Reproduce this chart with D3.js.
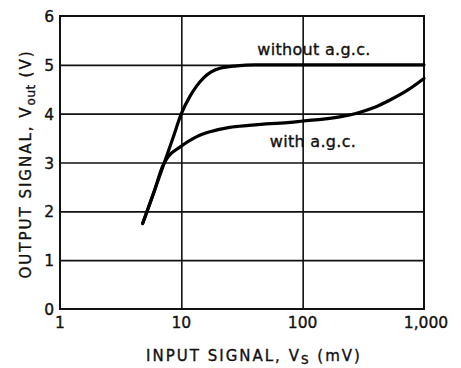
<!DOCTYPE html>
<html>
<head>
<meta charset="utf-8">
<script src="https://cdn.jsdelivr.net/npm/d3@7"></script>
<style>
  body { margin:0; background:#fff; }
  svg text { font-family:"DejaVu Sans", sans-serif; fill:#111; stroke:#111; stroke-width:0.35; }
  .grid line { stroke:#111; stroke-width:1.6; }
  .grid path { display:none; }
  .tick__text { font-size:15.5px; }
  .title { font-size:15px; letter-spacing:2px; }
  .curve { fill:none; stroke:#000; stroke-width:3.2; stroke-linecap:round; }
  .note { font-size:16px; letter-spacing:0.3px; }
</style>
</head>
<body>
<script>
// input signal (mV) -> output signal (V)
const withoutAgc=[
    [4.8,1.75],[6.0,2.42],[7.2,2.98],[8.5,3.49],[10,4.0],[11.8,4.36],[13.4,4.57],[15.2,4.73],
    [17.5,4.85],[20.8,4.93],[28.6,4.98],[40,5.0],[100,5.0],[1000,5.0]
];
const withAgc=[
    [4.8,1.75],[6.0,2.42],[7.0,2.92],[7.8,3.12],[9.8,3.32],[13.4,3.53],[17.3,3.63],[25,3.72],
    [36,3.76],[50,3.79],[79,3.82],[101,3.85],[148,3.89],[217,3.95],[279,4.01],[383,4.12],
    [525,4.28],[721,4.47],[1000,4.72]
];
const xTicks=[1,10,100,1000];
const xTickLabels=["1","10","100","1,000"];
const yTicks=[0,1,2,3,4,5,6];

const width=461;
const height=368;
const plotL=60, plotR=424, plotT=16, plotB=309;

const svg=d3.select("body").append("svg")
    .attr("width", width)
    .attr("height", height);

const x=d3.scaleLog().domain([1,1000]).range([plotL,plotR]);
const y=d3.scaleLinear().domain([0,6]).range([plotB,plotT]);

// grid lines
svg.append("g").attr("class","grid")
    .attr("transform",`translate(0,${plotB})`)
    .call(d3.axisBottom(x).tickValues([10,100]).tickSize(-(plotB-plotT)).tickFormat(""));
svg.append("g").attr("class","grid")
    .attr("transform",`translate(${plotL},0)`)
    .call(d3.axisLeft(y).tickValues([1,2,3,4,5]).tickSize(-(plotR-plotL)).tickFormat(""));

// frame
svg.append("rect")
    .attr("x",plotL).attr("y",plotT)
    .attr("width",plotR-plotL).attr("height",plotB-plotT)
    .attr("fill","none").attr("stroke","#111").attr("stroke-width",2);

// tick labels
svg.selectAll(".ylab").data(yTicks).join("text")
    .attr("class","tick__text")
    .attr("x",54).attr("y",d=>y(d)+6)
    .attr("text-anchor","end")
    .text(d=>d);
svg.selectAll(".xlab").data(xTicks).join("text")
    .attr("class","tick__text")
    .attr("x",d=>x(d)+(d===1000?2:0)).attr("y",plotB+19)
    .attr("text-anchor","middle")
    .text((d,i)=>xTickLabels[i]);

// axis titles
const xt=svg.append("text").attr("class","title")
    .attr("x",254).attr("y",361).attr("text-anchor","middle");
xt.append("tspan").text("INPUT SIGNAL, V");
xt.append("tspan").attr("dy",3).attr("font-size",12).text("S");
xt.append("tspan").attr("dy",-3).text(" (mV)");

const yt=svg.append("text").attr("class","title")
    .attr("transform","translate(31,164) rotate(-90)")
    .attr("text-anchor","middle");
yt.append("tspan").text("OUTPUT SIGNAL, V");
yt.append("tspan").attr("dy",4).attr("font-size",12).attr("letter-spacing",0.5).text("out");
yt.append("tspan").attr("dy",-4).text(" (V)");

// curves
const line=d3.line()
    .x(d=>x(d[0])).y(d=>y(d[1]))
    .curve(d3.curveMonotoneX);
svg.append("path").datum(withoutAgc).attr("class","curve").attr("d",line);
svg.append("path").datum(withAgc).attr("class","curve").attr("d",line);

// curve notes
svg.append("text").attr("class","note")
    .attr("x",314).attr("y",55).attr("text-anchor","middle")
    .text("without a.g.c.");
svg.append("text").attr("class","note")
    .attr("x",313).attr("y",147).attr("text-anchor","middle")
    .text("with a.g.c.");
</script>
</body>
</html>
